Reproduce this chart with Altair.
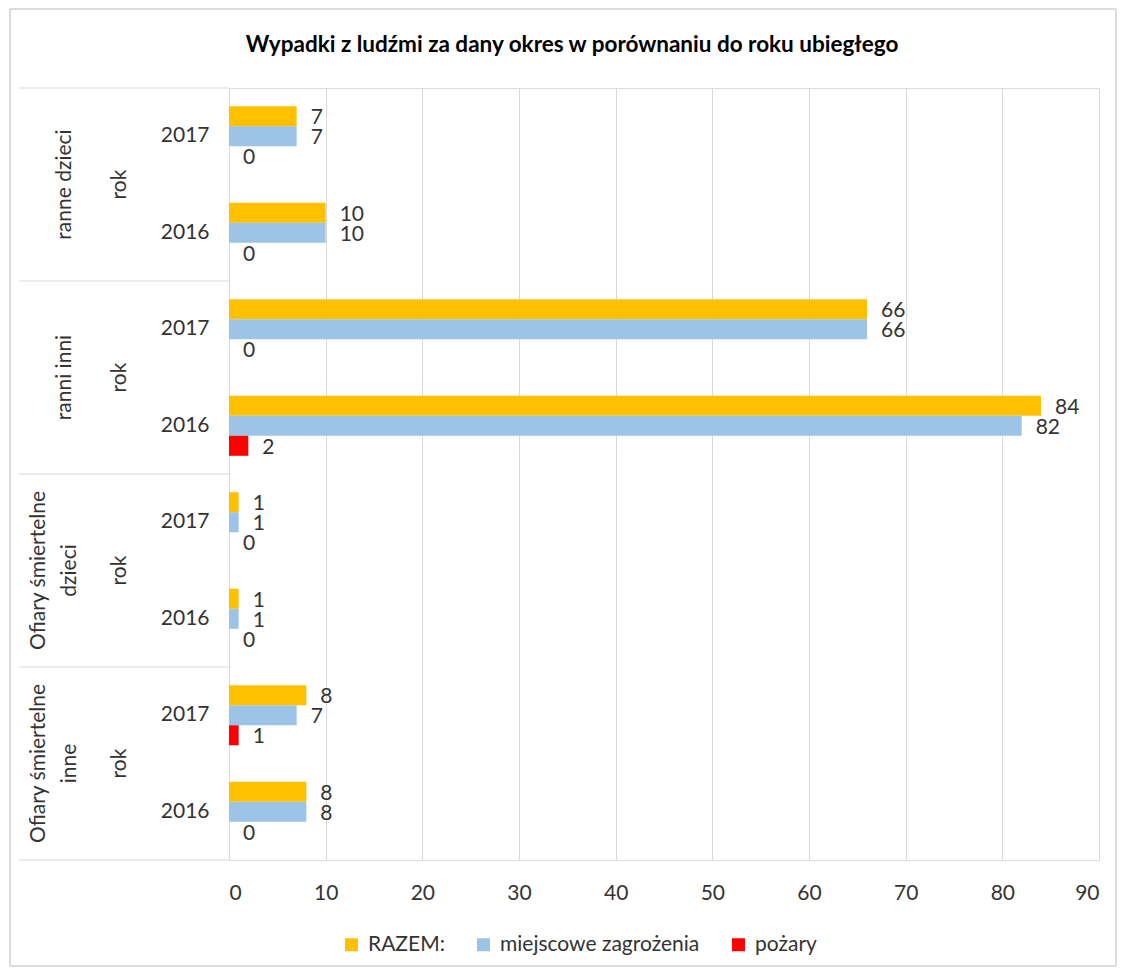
import altair as alt
import pandas as pd

groups = ["ranne dzieci", "ranni inni", "Ofiary śmiertelne dzieci", "Ofiary śmiertelne inne"]
group_lines = [["ranne dzieci"], ["ranni inni"], ["Ofiary śmiertelne", "dzieci"], ["Ofiary śmiertelne", "inne"]]
years = ["2017", "2016"]
series = ["RAZEM:", "miejscowe zagrożenia", "pożary"]
razem = [7, 10, 66, 84, 1, 1, 8, 8]
miejscowe = [7, 10, 66, 82, 1, 1, 7, 8]
pozary = [0, 0, 0, 2, 0, 0, 1, 0]
colors = ["#FFC000", "#9DC3E6", "#FF0000"]
x_ticks = list(range(0, 100, 10))
title_text = "Wypadki z ludźmi za dany okres w porównaniu do roku ubiegłego"
FONT = "Lato"
FS = 21
TXT = "#333333"

rows = [f"{g}|{y}" for g in groups for y in years]
recs = []
for i, r in enumerate(rows):
    for s, vals in zip(series, [razem, miejscowe, pozary]):
        recs.append({"row": r, "series": s, "value": vals[i]})
df = pd.DataFrame(recs)

grp_df = pd.DataFrame({
    "top": [f"{g}|2017" for g in groups],
    "mid": [f"{g}|2016" for g in groups],
    "label": group_lines,
    "n": [len(l) for l in group_lines],
})
grp_df["row"] = grp_df["top"]
mid_df = grp_df.copy()
mid_df["row"] = mid_df["mid"]
bottom_df = pd.DataFrame({"row": [rows[-1]]})
one = pd.DataFrame({"a": [0]})

y_scale = alt.Scale(domain=rows, paddingInner=0, paddingOuter=0)
y_enc = alt.Y("row:N", scale=y_scale,
              axis=alt.Axis(title=None, labelExpr="split(datum.label, '|')[1]",
                            labelFontSize=FS, labelFont=FONT, labelColor=TXT,
                            labelPadding=20, ticks=False, domain=True,
                            domainColor="#d9d9d9", grid=False))
x_enc = alt.X("value:Q", scale=alt.Scale(domain=[0, 90], nice=False),
              axis=alt.Axis(title=None, values=x_ticks, labelFontSize=FS, labelFont=FONT,
                            labelColor=TXT, labelPadding=22, ticks=False,
                            domain=False, grid=True, gridColor="#d9d9d9"))
yoff = alt.YOffset("series:N", sort=series,
                   scale=alt.Scale(domain=series, paddingInner=0, paddingOuter=0.91))

base = alt.Chart(df)
bars = base.mark_bar().encode(
    y=y_enc, x=x_enc, yOffset=yoff,
    color=alt.Color("series:N", sort=series,
                    scale=alt.Scale(domain=series, range=colors),
                    legend=alt.Legend(title=None, orient="none", legendX=112, legendY=846,
                                      direction="horizontal", symbolType="square",
                                      symbolSize=169, symbolStrokeWidth=0,
                                      labelFontSize=FS, labelFont=FONT, labelColor=TXT,
                                      labelLimit=0, columnPadding=28, labelOffset=6)),
)
labels = base.mark_text(align="left", baseline="middle", dx=14, dy=2, fontSize=FS,
                        font=FONT, color=TXT).encode(
    y=alt.Y("row:N", scale=y_scale), x="value:Q", yOffset=yoff, text="value:Q")

sep = alt.Chart(grp_df).mark_rule(color="#d9d9d9", strokeWidth=1).encode(
    y=alt.Y("row:N", scale=y_scale, bandPosition=0), x=alt.value(-210), x2=alt.value(0))
sep_bottom = alt.Chart(bottom_df).mark_rule(color="#d9d9d9", strokeWidth=1).encode(
    y=alt.Y("row:N", scale=y_scale, bandPosition=1), x=alt.value(-210), x2=alt.value(0))

glabel1 = alt.Chart(mid_df).transform_filter("datum.n == 1").mark_text(
    angle=270, align="center", baseline="middle", fontSize=FS, font=FONT,
    color=TXT).encode(
    y=alt.Y("row:N", scale=y_scale, bandPosition=0), x=alt.value(-164), text="label")
glabel2 = alt.Chart(mid_df).transform_filter("datum.n == 2").mark_text(
    angle=270, align="center", baseline="middle", fontSize=FS, font=FONT,
    color=TXT, lineHeight=31).encode(
    y=alt.Y("row:N", scale=y_scale, bandPosition=0), x=alt.value(-190), text="label")
rok = alt.Chart(mid_df).mark_text(
    angle=270, align="center", baseline="middle", fontSize=FS, font=FONT,
    color=TXT, text="rok").encode(
    y=alt.Y("row:N", scale=y_scale, bandPosition=0), x=alt.value(-109))

title = alt.Chart(one).mark_text(align="center", baseline="middle", fontSize=22.5,
                                 fontWeight="bold", font=FONT, color="#000000",
                                 text=title_text).encode(
    x=alt.value(343), y=alt.value(-43))

BC = "#d0d0d0"
L, R, T, B = -219, 887, -79, 878
b_top = alt.Chart(one).mark_rule(color=BC, strokeWidth=1.5).encode(
    x=alt.value(L), x2=alt.value(R), y=alt.value(T))
b_bot = alt.Chart(one).mark_rule(color=BC, strokeWidth=1.5).encode(
    x=alt.value(L), x2=alt.value(R), y=alt.value(B))
b_left = alt.Chart(one).mark_rule(color=BC, strokeWidth=1.5).encode(
    x=alt.value(L), y=alt.value(T), y2=alt.value(B))
b_right = alt.Chart(one).mark_rule(color=BC, strokeWidth=1.5).encode(
    x=alt.value(R), y=alt.value(T), y2=alt.value(B))

chart = alt.layer(b_top, b_bot, b_left, b_right, bars, labels, sep, sep_bottom,
                  glabel1, glabel2, rok, title).properties(
    width=870, height=772,
    autosize=alt.AutoSizeParams(type="none"),
    padding={"left": 221, "top": 80, "right": 19, "bottom": 108},
).configure_view(stroke=None).configure(background="white")

chart.save("out.html", embed_options={"renderer": "svg", "actions": False})
